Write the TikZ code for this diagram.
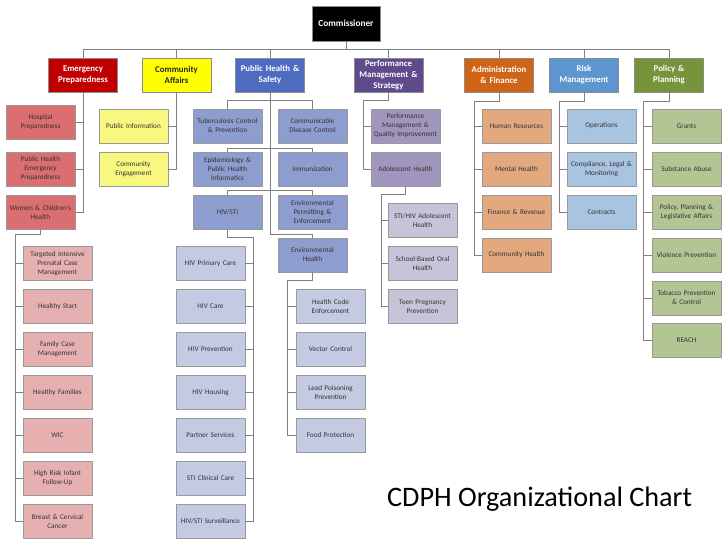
\documentclass[tikz,border=0pt]{standalone}
\usepackage{fontspec}
\setmainfont{Carlito}
\usetikzlibrary{calc,positioning,shadows}
\definecolor{epred}{HTML}{C00000}
\definecolor{epmid}{HTML}{DA6E70}
\definecolor{eplow}{HTML}{E6B0B0}
\definecolor{cayel}{HTML}{FFFF00}
\definecolor{calow}{HTML}{F8F880}
\definecolor{phsblue}{HTML}{4F6BC0}
\definecolor{phsmid}{HTML}{8E9DCF}
\definecolor{phslow}{HTML}{C4CAE2}
\definecolor{pmspur}{HTML}{5F4A8B}
\definecolor{pmsmid}{HTML}{A095BC}
\definecolor{pmslow}{HTML}{C9C3DA}
\definecolor{aforg}{HTML}{CF6416}
\definecolor{afmid}{HTML}{E4A87E}
\definecolor{rmblue}{HTML}{5F95CF}
\definecolor{rmmid}{HTML}{A8C4E1}
\definecolor{ppgrn}{HTML}{77933C}
\definecolor{ppmid}{HTML}{B4C594}

\begin{document}
\begin{tikzpicture}[x=1pt,y=-1pt,
  link/.style={draw=black!50,line width=0.9pt},
  unit/.style={draw=black!45,line width=0.5pt,minimum width=69pt,minimum height=34pt,inner sep=0pt,
    drop shadow={shadow xshift=0.8pt,shadow yshift=-0.8pt,opacity=0.3},
    text width=68pt,align=center,font={\fontsize{8.8}{11}\selectfont\bfseries},text=white},
  sub/.style={draw=black!40,line width=0.5pt,minimum width=69pt,minimum height=34pt,inner sep=0pt,
    drop shadow={shadow xshift=0.8pt,shadow yshift=-0.8pt,opacity=0.3},
    text width=69pt,align=center,font={\fontsize{7.2}{9}\selectfont},text=black!80}]
\useasboundingbox (0,0) rectangle (728,546);

% commissioner and departments
\node[unit,fill=black,minimum width=68pt,minimum height=35pt,font={\fontsize{9.3}{11}\selectfont\bfseries}] (cm) at (346,23.5) {Commissioner};
\node[unit,fill=epred] (ep) at (83,75) {Emergency\\Preparedness};
\node[unit,fill=cayel,text=black!85] (ca) at (176.5,75) {Community\\Affairs};
\node[unit,fill=phsblue] (phs) at (270,75) {Public Health \&\\Safety};
\node[unit,fill=pmspur] (pms) at (388.5,75) {Performance\\Management \&\\Strategy};
\node[unit,fill=aforg] (af) at (499,75) {Administration\\\& Finance};
\node[unit,fill=rmblue] (rm) at (584,75) {Risk\\Management};
\node[unit,fill=ppgrn] (pp) at (669,75) {Policy \&\\Planning};

\coordinate (bus) at (0,49);
\draw[link] (cm.south) -- (cm.south |- bus);
\draw[link] (ep.north) -- (ep.north |- bus) -- (pp.north |- bus) -- (pp.north);
\foreach \n in {ca,phs,pms,af,rm}
  \draw[link] (\n.north) -- (\n.north |- bus);

% emergency preparedness
\node[sub,fill=epmid] (hosp) at (40.5,122) {Hospital\\Preparedness};
\node[sub,fill=epmid] (phep) at (40.5,169) {Public Health\\Emergency\\Preparedness};
\node[sub,fill=epmid] (wch) at (40.5,212) {Women \& Children's\\Health};
\draw[link] (ep.south) -- (ep.south |- wch.east) -- (wch.east);
\foreach \n in {hosp,phep}
  \draw[link] (ep.south |- \n.east) -- (\n.east);

\node[sub,fill=eplow] (tipc) at (57.5,263.5) {Targeted Intensive\\Prenatal Case\\Management};
\node[sub,fill=eplow] (hstart) at (57.5,306.5) {Healthy Start};
\node[sub,fill=eplow] (fcm) at (57.5,349.5) {Family Case\\Management};
\node[sub,fill=eplow] (hfam) at (57.5,392.5) {Healthy Families};
\node[sub,fill=eplow] (wic) at (57.5,435.5) {WIC};
\node[sub,fill=eplow] (hrif) at (57.5,478.5) {High Risk Infant\\Follow-Up};
\node[sub,fill=eplow] (bcc) at (57.5,521.5) {Breast \& Cervical\\Cancer};
\coordinate (wchbus) at (15,234);
\draw[link] (wch.south) |- (wchbus) -- (wchbus |- bcc.west) -- (bcc.west);
\foreach \n in {tipc,hstart,fcm,hfam,wic,hrif}
  \draw[link] (wchbus |- \n.west) -- (\n.west);

% community affairs
\node[sub,fill=calow] (pinfo) at (133.5,126) {Public Information};
\node[sub,fill=calow] (ceng) at (133.5,169) {Community\\Engagement};
\draw[link] (ca.south) -- (ca.south |- ceng.east) -- (ceng.east);
\draw[link] (ca.south |- pinfo.east) -- (pinfo.east);

% public health and safety
\node[sub,fill=phsmid] (tbc) at (227.5,126) {Tuberculosis Control\\\& Prevention};
\node[sub,fill=phsmid] (cdc) at (312.5,126) {Communicable\\Disease Control};
\node[sub,fill=phsmid] (epi) at (227.5,169.5) {Epidemiology \&\\Public Health\\Informatics};
\node[sub,fill=phsmid] (imm) at (312.5,169.5) {Immunization};
\node[sub,fill=phsmid] (hiv) at (227.5,212) {HIV/STI};
\node[sub,fill=phsmid] (epe) at (312.5,212) {Environmental\\Permitting \&\\Enforcement};
\node[sub,fill=phsmid] (envh) at (312.5,255) {Environmental\\Health};
\coordinate (phsend) at (0,234);
\draw[link] (phs.south) -- (phs.south |- phsend) -| (envh.north);
\draw[link] (tbc.north) -- ([yshift=8pt]tbc.north) -| (cdc.north);
\draw[link] (epi.north) -- ([yshift=4pt]epi.north) -| (imm.north);
\draw[link] (hiv.north) -- ([yshift=4pt]hiv.north) -| (epe.north);

\node[sub,fill=phslow] (hpc) at (210.5,263.5) {HIV Primary Care};
\node[sub,fill=phslow] (hcare) at (210.5,306.5) {HIV Care};
\node[sub,fill=phslow] (hprev) at (210.5,349.5) {HIV Prevention};
\node[sub,fill=phslow] (hhous) at (210.5,392.5) {HIV Housing};
\node[sub,fill=phslow] (pserv) at (210.5,435.5) {Partner Services};
\node[sub,fill=phslow] (stic) at (210.5,478.5) {STI Clinical Care};
\node[sub,fill=phslow] (hsurv) at (210.5,521.5) {HIV/STI Surveillance};
\coordinate (hivbus) at (253,237);
\draw[link] (hiv.south) |- (hivbus) -- (hivbus |- hsurv.east) -- (hsurv.east);
\foreach \n in {hpc,hcare,hprev,hhous,pserv,stic}
  \draw[link] (hivbus |- \n.east) -- (\n.east);

\node[sub,fill=phslow] (hce) at (330.5,306.5) {Health Code\\Enforcement};
\node[sub,fill=phslow] (vec) at (330.5,349.5) {Vector Control};
\node[sub,fill=phslow] (lead) at (330.5,392.5) {Lead Poisoning\\Prevention};
\node[sub,fill=phslow] (food) at (330.5,435.5) {Food Protection};
\coordinate (ehbus) at (287,280);
\draw[link] (envh.south) |- (ehbus) -- (ehbus |- food.west) -- (food.west);
\foreach \n in {hce,vec,lead}
  \draw[link] (ehbus |- \n.west) -- (\n.west);

% performance management
\node[sub,fill=pmsmid] (pmqi) at (405.5,126) {Performance\\Management \&\\Quality Improvement};
\node[sub,fill=pmsmid] (adh) at (405.5,169.5) {Adolescent Health};
\coordinate (pmsbus) at (363,100);
\draw[link] (pms.south) |- (pmsbus) -- (pmsbus |- adh.west) -- (adh.west);
\draw[link] (pmsbus |- pmqi.west) -- (pmqi.west);

\node[sub,fill=pmslow] (stih) at (422.5,220.5) {STI/HIV Adolescent\\Health};
\node[sub,fill=pmslow] (sboh) at (422.5,263.5) {School-Based Oral\\Health};
\node[sub,fill=pmslow] (tpp) at (422.5,306.5) {Teen Pregnancy\\Prevention};
\coordinate (adhbus) at (381,194);
\draw[link] (adh.south) |- (adhbus) -- (adhbus |- tpp.west) -- (tpp.west);
\foreach \n in {stih,sboh}
  \draw[link] (adhbus |- \n.west) -- (\n.west);

% administration and finance
\node[sub,fill=afmid] (hr) at (516.5,126.5) {Human Resources};
\node[sub,fill=afmid] (mh) at (516.5,169) {Mental Health};
\node[sub,fill=afmid] (finrev) at (516.5,212) {Finance \& Revenue};
\node[sub,fill=afmid] (comh) at (516.5,255) {Community Health};
\coordinate (afbus) at (474,101);
\draw[link] (af.south) |- (afbus) -- (afbus |- comh.west) -- (comh.west);
\foreach \n in {hr,mh,finrev}
  \draw[link] (afbus |- \n.west) -- (\n.west);

% risk management
\node[sub,fill=rmmid] (ops) at (601.5,126) {Operations};
\node[sub,fill=rmmid] (clm) at (601.5,169) {Compliance, Legal \&\\Monitoring};
\node[sub,fill=rmmid] (contr) at (601.5,212) {Contracts};
\coordinate (rmbus) at (559,101);
\draw[link] (rm.south) |- (rmbus) -- (rmbus |- contr.west) -- (contr.west);
\foreach \n in {ops,clm}
  \draw[link] (rmbus |- \n.west) -- (\n.west);

% policy and planning
\node[sub,fill=ppmid] (grants) at (686.5,126) {Grants};
\node[sub,fill=ppmid] (subab) at (686.5,169) {Substance Abuse};
\node[sub,fill=ppmid] (ppla) at (686.5,212) {Policy, Planning \&\\Legislative Affairs};
\node[sub,fill=ppmid] (viol) at (686.5,255) {Violence Prevention};
\node[sub,fill=ppmid] (tobac) at (686.5,298) {Tobacco Prevention\\\& Control};
\node[sub,fill=ppmid] (reach) at (686.5,340.5) {REACH};
\coordinate (ppbus) at (643,101);
\draw[link] (pp.south) |- (ppbus) -- (ppbus |- reach.west) -- (reach.west);
\foreach \n in {grants,subab,ppla,viol,tobac}
  \draw[link] (ppbus |- \n.west) -- (\n.west);

\node[anchor=base west,inner sep=0pt,font={\fontsize{28.2}{30}\selectfont}] (title) at (387,506) {CDPH Organizational Chart};
\end{tikzpicture}
\end{document}
